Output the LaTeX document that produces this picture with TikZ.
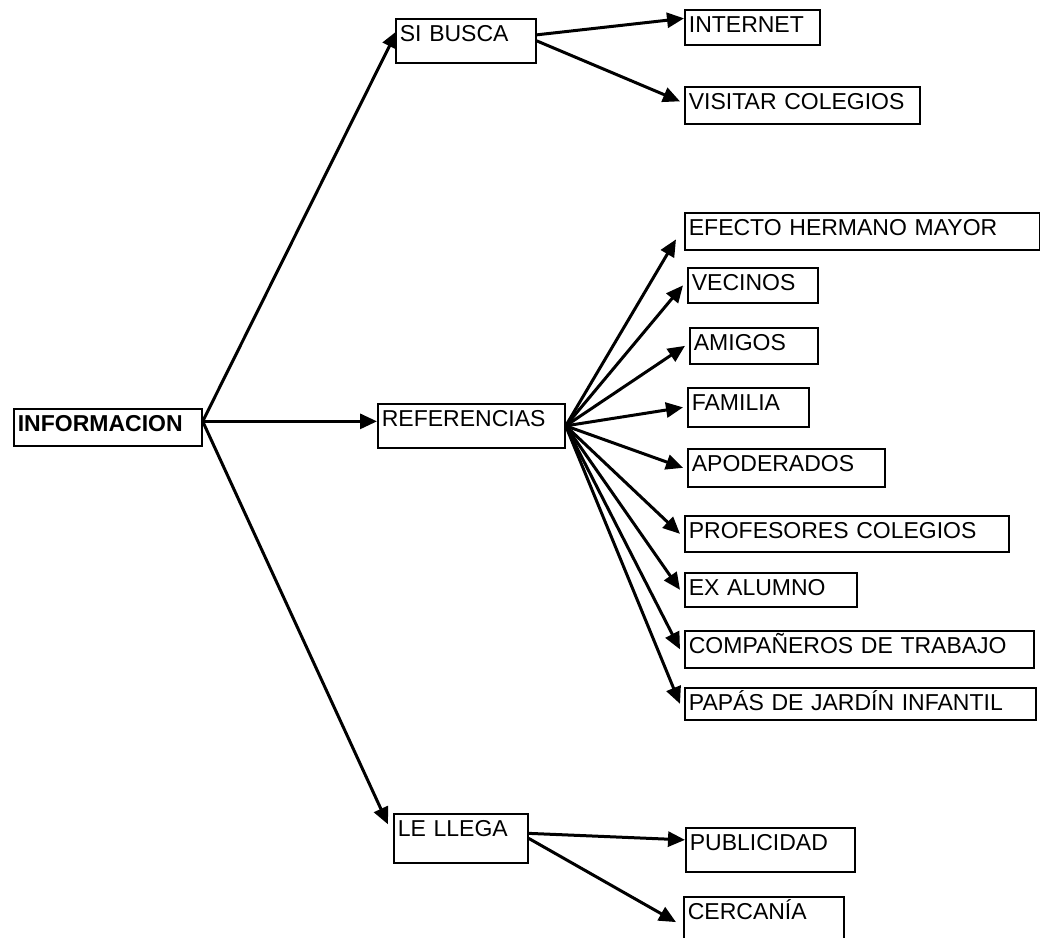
\documentclass[tikz,border=0pt]{standalone}
\usepackage{fontspec}
\setmainfont{Liberation Sans}
\usetikzlibrary{arrows.meta, positioning, calc}

\begin{document}
\begin{tikzpicture}[
        x=1pt, y=-1pt,
        box/.style={draw, line width=1.7pt, anchor=north west, align=left,
            inner xsep=4pt, inner ysep=2pt, text height=20.5pt, text depth=#1,
            font=\fontsize{23pt}{27pt}\selectfont},
        box/.default=12.5pt,
        arrow/.style={-{Triangle[length=17pt, width=15pt]}, line width=3pt}
    ]
    \useasboundingbox (0,0) rectangle (1040,937);
    % root
    \node[box, text width=180pt, font=\fontsize{23pt}{27pt}\selectfont\bfseries] (info) at (13,408) {INFORMACION};
    % second level
    \node[box=19.5pt, text width=132pt] (sibusca) at (395,18) {SI BUSCA};
    \node[box=19.5pt, text width=179pt] (ref) at (377,403) {REFERENCIAS};
    \node[box=24.5pt, text width=126pt] (lellega) at (393,813) {LE LLEGA};
    % leaves of SI BUSCA
    \node[box=10.5pt, text width=127pt] (internet) at (684,9) {INTERNET};
    \node[box, text width=227pt] (visitar) at (684,86) {VISITAR COLEGIOS};
    % leaves of REFERENCIAS
    \node[box, text width=347pt] (efecto) at (684,212) {EFECTO HERMANO MAYOR};
    \node[box=10.5pt, text width=122pt] (vecinos) at (687,267) {VECINOS};
    \node[box=11.5pt, text width=120pt] (amigos) at (689,327) {AMIGOS};
    \node[box=14.5pt, text width=113pt] (familia) at (687,387) {FAMILIA};
    \node[box=13.5pt, text width=189pt] (apod) at (687,448) {APODERADOS};
    \node[box=11.5pt, text width=316pt] (prof) at (684,515) {PROFESORES COLEGIOS};
    \node[box=9.5pt, text width=164pt] (exal) at (684,572) {EX ALUMNO};
    \node[box, text width=341pt] (comp) at (684,630) {COMPAÑEROS DE TRABAJO};
    \node[box=7.5pt, text width=343pt] (papas) at (684,687) {PAPÁS DE JARDÍN INFANTIL};
    % leaves of LE LLEGA
    \node[box=19.5pt, text width=161pt] (public) at (685,827) {PUBLICIDAD};
    \node[box=26pt, text width=152pt] (cerca) at (683,896) {CERCANÍA};

    \draw[arrow] ([yshift=6pt]info.east) -- ([xshift=2pt,yshift=10pt]sibusca.west);
    \draw[arrow] ([yshift=6pt]info.east) -- ([yshift=6pt]info.east -| ref.west);
    \draw[arrow] ([yshift=6pt]info.east) -- ([xshift=-5pt,yshift=14pt]lellega.west);

    \draw[arrow] ([yshift=6pt]sibusca.east) -- ([yshift=9pt]internet.west);
    \draw[arrow] (sibusca.east) -- ([xshift=-4pt,yshift=4pt]visitar.west);

    \draw[arrow] (ref.east) -- ([xshift=-8pt,yshift=-8pt]efecto.west);
    \foreach \leaf in {vecinos, amigos, familia, apod, prof, exal, comp, papas}
        \draw[arrow] (ref.east) -- ([xshift=-4pt]\leaf.west);

    \draw[arrow] ([yshift=5pt]lellega.east) -- ([yshift=10pt]public.west);
    \draw[arrow] (lellega.east) -- ([xshift=-7pt]cerca.west);
\end{tikzpicture}
\end{document}
